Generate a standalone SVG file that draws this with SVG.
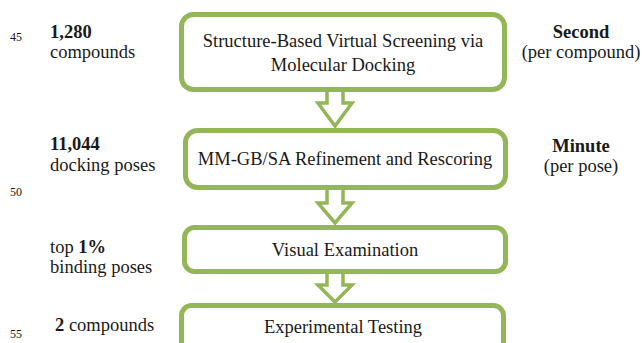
<svg xmlns="http://www.w3.org/2000/svg" width="642" height="343" viewBox="0 0 642 343">
<style>
.box{fill:#fff;stroke:#93b656;stroke-width:5}
.arr{fill:#fff;stroke:#93b656;stroke-width:3.5;stroke-linejoin:miter}
.t{font-family:"Liberation Serif","DejaVu Serif",serif;fill:#1a1a1a;font-size:18.5px}
.c{text-anchor:middle}
.b{font-weight:bold}
.ln{font-size:12px}
</style>
<rect width="642" height="343" fill="#fff"/>
<g id="connectors">
<path class="arr" d="M327,90 V103 H318 L335,126 L352,103 H343 V90"/>
<path class="arr" d="M327,188 V203 H318 L335,223 L352,203 H343 V188"/>
<path class="arr" d="M327,272 V285 H318 L335,302 L352,285 H343 V272"/>
</g>
<g id="node1"><rect class="box" x="181.5" y="14.5" width="323" height="75" rx="12"/>
<text class="t c" x="343" y="47">Structure-Based Virtual Screening via</text>
<text class="t c" x="343" y="71">Molecular Docking</text></g>
<g id="node2"><rect class="box" x="185.5" y="130.5" width="320" height="57" rx="12"/>
<text class="t c" x="345" y="165">MM-GB/SA Refinement and Rescoring</text></g>
<g id="node3"><rect class="box" x="184.5" y="227.5" width="321" height="44" rx="10"/>
<text class="t c" x="345" y="256">Visual Examination</text></g>
<g id="node4"><rect class="box" x="181.5" y="305.5" width="322" height="60" rx="10"/>
<text class="t c" x="343" y="333">Experimental Testing</text></g>
<g id="left-labels">
<text class="t ln" x="10" y="41">45</text>
<text class="t ln" x="10" y="196">50</text>
<text class="t ln" x="10" y="338">55</text>
<text class="t b" x="50" y="38">1,280</text>
<text class="t" x="50" y="58">compounds</text>
<text class="t b" x="50" y="150">11,044</text>
<text class="t" x="50" y="171">docking poses</text>
<text class="t" x="50" y="253">top <tspan class="b">1%</tspan></text>
<text class="t" x="50" y="273">binding poses</text>
<text class="t" x="55" y="331"><tspan class="b">2</tspan> compounds</text>
</g>
<g id="right-labels">
<text class="t c b" x="581" y="38">Second</text>
<text class="t c" x="581" y="58">(per compound)</text>
<text class="t c b" x="581" y="152">Minute</text>
<text class="t c" x="581" y="172">(per pose)</text>
</g>
</svg>
